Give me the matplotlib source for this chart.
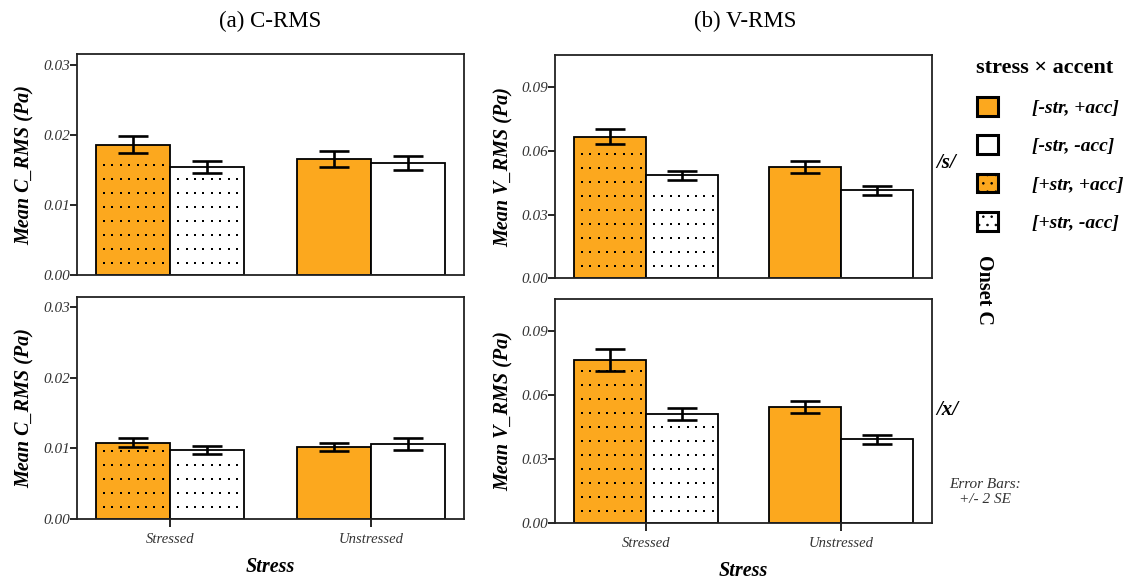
"""Onset-C RMS amplitude by stress and accent (2x2 bar panels)."""

import numpy as np
import matplotlib.pyplot as plt
from matplotlib.patches import Patch

plt.rcParams["font.family"] = ["Liberation Serif", "DejaVu Serif"]
plt.rcParams["hatch.linewidth"] = 0.6

# --- data ---------------------------------------------------------------------
stress_levels = ["Stressed", "Unstressed"]
accent_labels = ["[-str, +acc]", "[-str, -acc]", "[+str, +acc]", "[+str, -acc]"]
onsets = ["/s/", "/x/"]

# bar order per stress level: (+acc, -acc)
c_rms_s = [[0.0186, 0.0154], [0.0166, 0.0159]]
c_rms_s_err = [[0.00118, 0.00090], [0.00114, 0.00100]]
c_rms_x = [[0.0108, 0.0098], [0.0102, 0.0106]]
c_rms_x_err = [[0.00064, 0.00057], [0.00060, 0.00080]]
v_rms_s = [[0.0665, 0.0484], [0.0524, 0.0413]]
v_rms_s_err = [[0.0035, 0.0021], [0.0027, 0.0022]]
v_rms_x = [[0.0766, 0.0511], [0.0544, 0.0393]]
v_rms_x_err = [[0.0051, 0.0027], [0.0029, 0.0020]]

ORANGE = "#FCA81E"
TICK_GREY = "#333333"
BAR_W = 0.37


def dot_fill(ax, x0, x1, y1, dx_px=8.4, dy_px=14.0):
    """Scatter a rectangular dot texture inside a bar (x0..x1, 0..y1)."""
    fig = ax.figure
    fig.canvas.draw()
    (px0, py0), (px1, py1) = ax.transData.transform([(x0, 0), (x1, y1)])
    xs = np.arange(px0 + 8, px1 - 4, dx_px)
    ys = np.arange(py0 + 12, py1 - 8, dy_px)
    gx, gy = np.meshgrid(xs, ys)
    pts = ax.transData.inverted().transform(np.column_stack([gx.ravel(), gy.ravel()]))
    ax.scatter(pts[:, 0], pts[:, 1], s=2.2, marker="s", color="black",
               linewidths=0, zorder=3)


def panel(ax, means, errs, ylim, yticks, ylabel, show_x):
    for i, (m_grp, e_grp) in enumerate(zip(means, errs)):
        for j, (m, e) in enumerate(zip(m_grp, e_grp)):
            x = i + (j - 0.5) * BAR_W
            ax.bar(x, m, width=BAR_W, color=ORANGE if j == 0 else "white",
                   edgecolor="black", linewidth=1.3, zorder=2)
            ax.errorbar(x, m, yerr=e, color="black", lw=1.9, capsize=10.5,
                        capthick=1.9, zorder=4)
    ax.set_xlim(-0.465, 1.465)
    ax.set_ylim(0, ylim)
    ax.set_yticks(yticks)
    ax.set_yticklabels([f"{t:.2f}" for t in yticks], fontstyle="italic",
                       fontsize=11, color=TICK_GREY)
    ax.set_xticks([0, 1])
    ax.tick_params(axis="y", direction="out", length=5, width=1.2, pad=0)
    ax.tick_params(axis="x", direction="out", length=6, width=1.2, pad=4)
    if show_x:
        ax.set_xticklabels(stress_levels, fontstyle="italic", fontsize=10.5,
                           color=TICK_GREY)
        ax.set_xlabel("Stress", fontweight="bold", fontstyle="italic",
                      fontsize=14.5, labelpad=8)
    else:
        ax.tick_params(axis="x", length=0)
        ax.set_xticklabels([])
    ax.set_ylabel(ylabel, fontweight="bold", fontstyle="italic", fontsize=14.5,
                  labelpad=6)
    for sp in ax.spines.values():
        sp.set_linewidth(1.3)
        sp.set_color("#222222")
    # stressed group carries the dot texture
    for j, m in enumerate(means[0]):
        x = (j - 0.5) * BAR_W
        dot_fill(ax, x - BAR_W / 2, x + BAR_W / 2, m)


def main() -> None:
    fig = plt.figure(figsize=(11.3, 5.79), dpi=100)
    ax_tl = fig.add_axes([0.0681, 0.525, 0.3425, 0.3817])
    ax_bl = fig.add_axes([0.0681, 0.1041, 0.3425, 0.3834])
    ax_tr = fig.add_axes([0.4914, 0.5193, 0.3334, 0.3857])
    ax_br = fig.add_axes([0.4914, 0.0967, 0.3334, 0.3864])

    c_ticks = [0.0, 0.01, 0.02, 0.03]
    v_ticks = [0.0, 0.03, 0.06, 0.09]
    panel(ax_tl, c_rms_s, c_rms_s_err, 0.0315, c_ticks, "Mean C_RMS (Pa)", False)
    panel(ax_bl, c_rms_x, c_rms_x_err, 0.0315, c_ticks, "Mean C_RMS (Pa)", True)
    panel(ax_tr, v_rms_s, v_rms_s_err, 0.105, v_ticks, "Mean V_RMS (Pa)", False)
    panel(ax_br, v_rms_x, v_rms_x_err, 0.105, v_ticks, "Mean V_RMS (Pa)", True)

    fig.text(270 / 1130, 1 - 21 / 579, "(a) C-RMS", ha="center", va="center",
             fontsize=16.5)
    fig.text(745 / 1130, 1 - 21 / 579, "(b) V-RMS", ha="center", va="center",
             fontsize=16.5)

    # onset row labels
    for lab, ypx in zip(onsets, [163, 410]):
        fig.text(936 / 1130, 1 - ypx / 579, lab, ha="left", va="center",
                 fontsize=15, fontweight="bold", fontstyle="italic")
    fig.text(984 / 1130, 1 - 290 / 579, "Onset C", rotation=-90, ha="center",
             va="center", fontsize=14.5, fontweight="bold")
    fig.text(985 / 1130, 1 - 492 / 579, "Error Bars:\n+/- 2 SE", ha="center",
             va="center", fontsize=11, fontstyle="italic", color=TICK_GREY,
             linespacing=1.25)

    handles = [
        Patch(facecolor=ORANGE, edgecolor="black", linewidth=2.2),
        Patch(facecolor="white", edgecolor="black", linewidth=2.2),
        Patch(facecolor=ORANGE, edgecolor="black", linewidth=2.2, hatch=".."),
        Patch(facecolor="white", edgecolor="black", linewidth=2.2, hatch=".."),
    ]
    leg = fig.legend(handles, accent_labels, loc="upper left",
                     bbox_to_anchor=(959 / 1130, 1 - 41 / 579), frameon=False,
                     title="stress \u00d7 accent", handlelength=1.1,
                     handleheight=1.1, handletextpad=1.75, labelspacing=0.95,
                     prop={"size": 14, "weight": "bold", "style": "italic"},
                     title_fontproperties={"size": 16, "weight": "bold"})
    leg._legend_box.align = "left"

    fig.savefig("out.png", dpi=100)


if __name__ == "__main__":
    main()
